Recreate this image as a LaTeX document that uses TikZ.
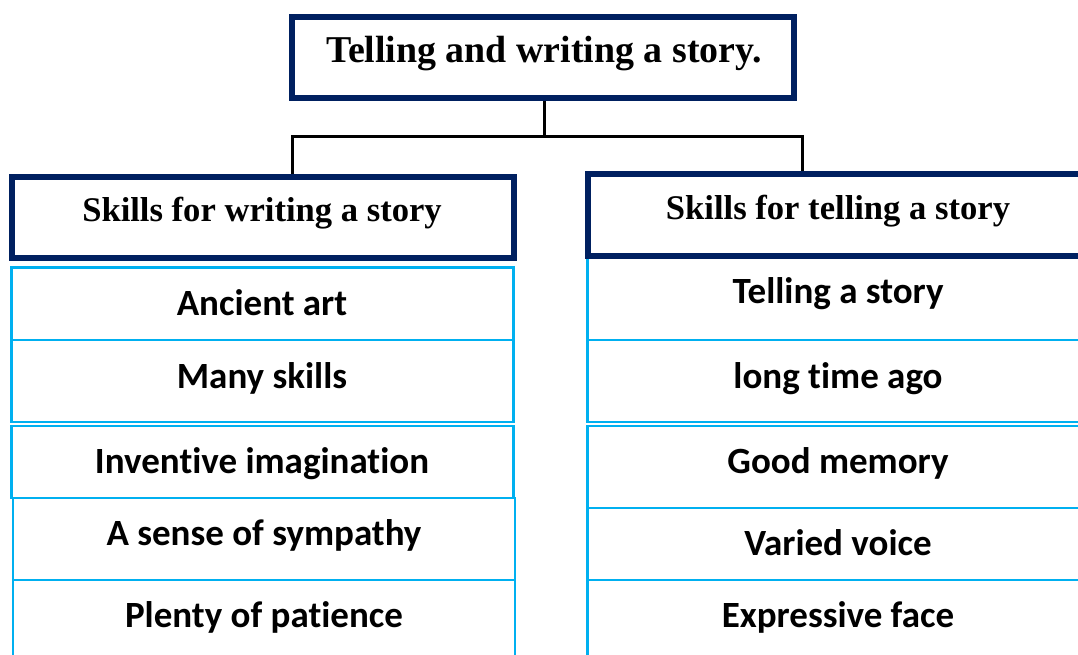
\documentclass[tikz,border=0pt]{standalone}
\usepackage{fontspec}
\setmainfont{Liberation Serif}
\newfontfamily\itemfont[Ligatures={NoCommon}]{Carlito}
\definecolor{hdrblue}{HTML}{002060}
\definecolor{itemcyan}{HTML}{00B0F0}
\begin{document}
\begin{tikzpicture}[x=1pt,y=-1pt,
  hdrbox/.style={draw=hdrblue, line width=6pt, inner sep=0pt, minimum width=502.5pt, minimum height=81pt},
  cellbox/.style={draw=itemcyan, line width=2.5pt, inner sep=0pt, minimum width=502pt},
  conn/.style={draw=black, line width=3pt},
  toptext/.style={font=\bfseries\fontsize{37.9}{40}\selectfont, anchor=base, inner sep=0pt},
  subtext/.style={font=\bfseries\fontsize{34.6}{38}\selectfont, anchor=base, inner sep=0pt},
  itemtext/.style={font=\itemfont\bfseries\fontsize{37}{40}\selectfont, anchor=base, inner sep=0pt}]
\useasboundingbox (0,0) rectangle (1078,655);
\clip (0,0) rectangle (1078,655);
% left column cells
\node[cellbox, minimum height=72.5pt] (l1) at (262.25,303.75) {};
\node[cellbox, minimum height=82pt] (l2) at (262.25,381) {};
\node[cellbox, minimum height=72pt] (l3) at (262.25,462) {};
\node[cellbox, minimum height=82pt] (l4) at (264,539) {};
\node[cellbox, minimum height=82pt] (l5) at (264,621) {};
% right column cells
\node[cellbox, minimum height=84pt] (r1) at (838.5,298) {};
\node[cellbox, minimum height=82pt] (r2) at (838.5,381) {};
\node[cellbox, minimum height=82pt] (r3) at (838.5,467) {};
\node[cellbox, minimum height=72pt] (r4) at (838.5,544) {};
\node[cellbox, minimum height=82pt] (r5) at (838.5,621) {};
% header boxes
\node[hdrbox] (top) at (542.75,57.5) {};
\node[hdrbox] (lh) at (262.75,217.5) {};
\node[hdrbox, minimum height=81.5pt] (rh) at (838.75,215.25) {};
% texts
\node[toptext] (topt) at (544,63) {Telling and writing a story.};
\node[subtext] (lht) at (262,221) {Skills for writing a story};
\node[subtext] (rht) at (838,219) {Skills for telling a story};
\node[itemtext] (l1t) at (262,315) {Ancient art};
\node[itemtext] (l2t) at (262,388) {Many skills};
\node[itemtext] (l3t) at (262,473) {Inventive imagination};
\node[itemtext] (l4t) at (264,545) {A sense of sympathy};
\node[itemtext] (l5t) at (264,627) {Plenty of patience};
\node[itemtext] (r1t) at (838,303) {Telling a story};
\node[itemtext] (r2t) at (838,388) {long time ago};
\node[itemtext] (r3t) at (838,473) {Good memory};
\node[itemtext] (r4t) at (838,555) {Varied voice};
\node[itemtext] (r5t) at (838,627) {Expressive face};
% connectors
\coordinate (jn) at (544,137);
\coordinate (jl) at (292,137);
\coordinate (jr) at (802,137);
\draw[conn] (jn |- top.south) -- (jn);
\draw[conn] (jl |- lh.north) -- (jl) -- (jr) -- (jr |- rh.north);
\end{tikzpicture}
\end{document}
